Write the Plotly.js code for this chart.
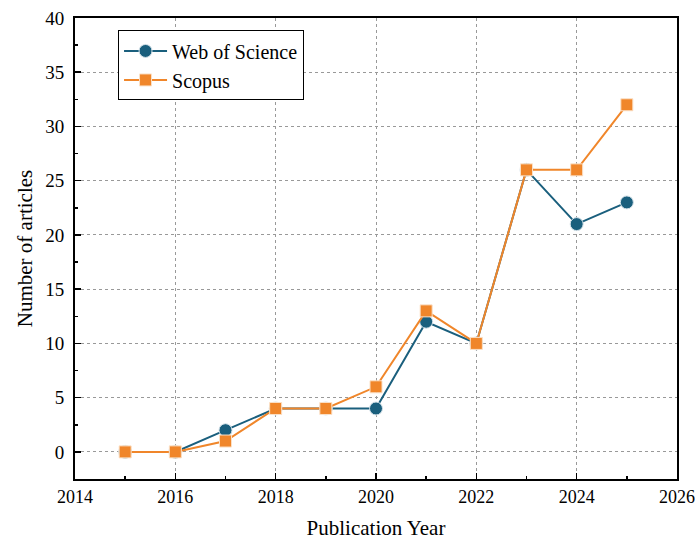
<!DOCTYPE html>
<html>
<head>
<meta charset="utf-8">
<script src="https://cdn.plot.ly/plotly-3.0.1.min.js"></script>
<style>html,body{margin:0;padding:0;background:#fff;}</style>
</head>
<body>
<div id="chart" style="width:695px;height:540px;"></div>
<script>
const years = [2015, 2016, 2017, 2018, 2019, 2020, 2021, 2022, 2023, 2024, 2025];
const webOfScience = [0, 0, 2, 4, 4, 4, 12, 10, 26, 21, 23];
const scopus = [0, 0, 1, 4, 4, 6, 13, 10, 26, 26, 32];
const seriesNames = ['Web of Science', 'Scopus'];

const font = 'Liberation Serif';
const traces = [
  {
    x: years, y: webOfScience, name: seriesNames[0], type: 'scatter', mode: 'lines+markers',
    line: {color: '#1a5f7d', width: 2},
    marker: {symbol: 'circle', size: 13, color: '#1a5f7d', line: {color: '#d7e3ea', width: 1}}
  },
  {
    x: years, y: scopus, name: seriesNames[1], type: 'scatter', mode: 'lines+markers',
    line: {color: '#f0862a', width: 2},
    marker: {symbol: 'square', size: 12, color: '#f0862a', line: {color: '#fbe0c6', width: 1}}
  }
];
const layout = {
  width: 695, height: 540,
  margin: {l: 75, r: 18, t: 18, b: 61},
  paper_bgcolor: '#fff', plot_bgcolor: '#fff',
  font: {family: font, size: 18, color: '#000'},
  xaxis: {
    showline: true, linecolor: '#000', linewidth: 2, mirror: true,
    ticks: 'inside', ticklen: 6, tickwidth: 1.5, tickcolor: '#000',
    showgrid: true, gridcolor: '#999', griddash: 'dot', gridwidth: 1, zeroline: false,
    tickfont: {family: font, size: 18, color: '#000'},
    range: [2014, 2026], dtick: 2, tick0: 2014, tickmode: 'linear',
    minor: {ticks: 'inside', ticklen: 3, tickwidth: 1.5, tickcolor: '#000', showgrid: false, dtick: 1},
    title: {text: 'Publication Year', font: {family: font, size: 21, color: '#000'}, standoff: 22}
  },
  yaxis: {
    showline: true, linecolor: '#000', linewidth: 2, mirror: true,
    ticks: 'inside', ticklen: 6, tickwidth: 1.5, tickcolor: '#000',
    showgrid: true, gridcolor: '#999', griddash: 'dot', gridwidth: 1, zeroline: false,
    tickfont: {family: font, size: 19, color: '#000'},
    range: [-2.5, 40], dtick: 5, tick0: 0, tickmode: 'linear', ticklabelstandoff: 5,
    minor: {ticks: 'inside', ticklen: 3, tickwidth: 1.5, tickcolor: '#000', showgrid: false, dtick: 2.5},
    title: {text: 'Number of articles', font: {family: font, size: 21, color: '#000'}, standoff: 7}
  },
  legend: {
    x: 0.0715, y: 0.973, xanchor: 'left', yanchor: 'top',
    bgcolor: '#fff', bordercolor: '#000', borderwidth: 1,
    font: {family: font, size: 20, color: '#000'},
    tracegroupgap: 0, itemwidth: 43
  },
  showlegend: true
};
Plotly.newPlot('chart', traces, layout, {displayModeBar: false, staticPlot: true});
</script>
</body>
</html>
